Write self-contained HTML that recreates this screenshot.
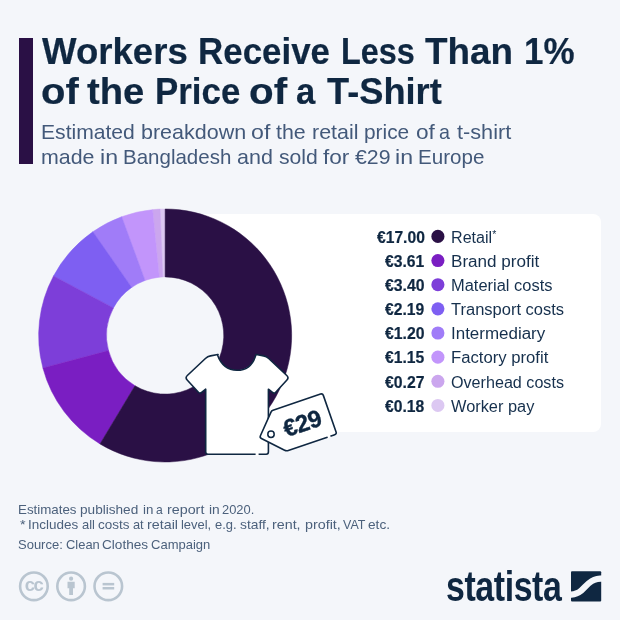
<!DOCTYPE html>
<html lang="en">
<head>
<meta charset="utf-8">
<title>Workers Receive Less Than 1% of the Price of a T-Shirt</title>
<style>
html,body{margin:0;padding:0}
body{width:620px;height:620px;overflow:hidden;background:#f4f6fa;font-family:"Liberation Sans",Arial,sans-serif;position:relative}
.abs{position:absolute;white-space:nowrap;line-height:1}
.ln{position:absolute;left:0;width:620px;white-space:nowrap;line-height:1}
.ln span{position:absolute;top:0;display:block;transform-origin:0 0;white-space:nowrap}
#bar{position:absolute;left:19px;top:38px;width:14px;height:126px;background:#2a1045}
.title{font-weight:700;color:#0f2741;-webkit-text-stroke:0.2px #0f2741}
.sub{color:#43597a}
.val{font-weight:700;color:#0f2741;-webkit-text-stroke:0.2px #0f2741}
.lbl{color:#16304d}
.foot{color:#4c617c}
#card{position:absolute;left:165px;top:214px;width:435.5px;height:218px;background:#fff;border-radius:0 8px 8px 0}
svg{position:absolute;left:0;top:0}
#logo{font-weight:700;font-size:42.5px;color:#0f2741;left:446px;top:566px;transform:scaleX(0.797);transform-origin:0 0;letter-spacing:-0.5px}
</style>
</head>
<body>
<div id="bar"></div>
<div class="ln title" style="top:33.73px;font-size:36px;height:36px"><span style="left:41.80px;transform:scaleX(1.0169)">Workers</span> <span style="left:198.37px;transform:scaleX(0.9701)">Receive</span> <span style="left:341.30px;transform:scaleX(0.9000)">Less</span> <span style="left:425.29px;transform:scaleX(1.0234)">Than</span> <span style="left:523.62px;transform:scaleX(0.9703)">1%</span></div>
<div class="ln title" style="top:74.13px;font-size:36px;height:36px"><span style="left:40.63px;transform:scaleX(1.1108)">of</span> <span style="left:87.47px;transform:scaleX(1.0622)">the</span> <span style="left:154.98px;transform:scaleX(0.9685)">Price</span> <span style="left:249.32px;transform:scaleX(1.1200)">of</span> <span style="left:296.04px;transform:scaleX(0.9610)">a</span> <span style="left:327.20px;transform:scaleX(1.0071)">T-Shirt</span></div>
<div class="ln sub" style="top:122.08px;font-size:20.7px;height:20.7px"><span style="left:41.01px;transform:scaleX(1.0202)">Estimated</span> <span style="left:140.80px;transform:scaleX(1.0386)">breakdown</span> <span style="left:251.33px;transform:scaleX(1.1200)">of</span> <span style="left:275.84px;transform:scaleX(1.0327)">the</span> <span style="left:311.55px;transform:scaleX(1.0357)">retail</span> <span style="left:364.24px;transform:scaleX(1.0082)">price</span> <span style="left:415.50px;transform:scaleX(1.0954)">of</span> <span style="left:439.25px;transform:scaleX(0.9524)">a</span> <span style="left:456.74px;transform:scaleX(1.0478)">t-shirt</span></div>
<div class="ln sub" style="top:146.98px;font-size:20.7px;height:20.7px"><span style="left:41.25px;transform:scaleX(1.0335)">made</span> <span style="left:99.65px;transform:scaleX(1.1200)">in</span> <span style="left:122.67px;transform:scaleX(0.9911)">Bangladesh</span> <span style="left:237.06px;transform:scaleX(1.0388)">and</span> <span style="left:278.93px;transform:scaleX(1.0238)">sold</span> <span style="left:323.03px;transform:scaleX(1.0936)">for</span> <span style="left:354.94px;transform:scaleX(1.0286)">€29</span> <span style="left:395.05px;transform:scaleX(1.1200)">in</span> <span style="left:418.46px;transform:scaleX(0.9953)">Europe</span></div>
<div id="card"></div>
<svg width="620" height="620" viewBox="0 0 620 620" font-family="'Liberation Sans',Arial,sans-serif">
<circle cx="165.15" cy="335.5" r="59.6" fill="#f4f6fa"/>
<path d="M160.07 209.10A126.5 126.5 0 0 1 165.15 209.00L165.15 276.90A58.6 58.6 0 0 0 162.80 276.95Z" fill="#dcc8f2" stroke="#dcc8f2" stroke-width="0.5"/>
<path d="M152.59 209.63A126.5 126.5 0 0 1 160.07 209.10L162.80 276.95A58.6 58.6 0 0 0 159.33 277.19Z" fill="#cba6ee" stroke="#cba6ee" stroke-width="0.5"/>
<path d="M121.68 216.70A126.5 126.5 0 0 1 152.59 209.63L159.33 277.19A58.6 58.6 0 0 0 145.01 280.47Z" fill="#c295fb" stroke="#c295fb" stroke-width="0.5"/>
<path d="M92.86 231.69A126.5 126.5 0 0 1 121.68 216.70L145.01 280.47A58.6 58.6 0 0 0 131.66 287.41Z" fill="#a07cf8" stroke="#a07cf8" stroke-width="0.5"/>
<path d="M53.53 275.98A126.5 126.5 0 0 1 92.86 231.69L131.66 287.41A58.6 58.6 0 0 0 113.44 307.93Z" fill="#7e5ff2" stroke="#7e5ff2" stroke-width="0.5"/>
<path d="M42.90 368.03A126.5 126.5 0 0 1 53.53 275.98L113.44 307.93A58.6 58.6 0 0 0 108.52 350.57Z" fill="#7d3ed9" stroke="#7d3ed9" stroke-width="0.5"/>
<path d="M100.00 443.93A126.5 126.5 0 0 1 42.90 368.03L108.52 350.57A58.6 58.6 0 0 0 134.97 385.73Z" fill="#7a1ec2" stroke="#7a1ec2" stroke-width="0.5"/>
<path d="M165.15 209.00A126.5 126.5 0 1 1 100.00 443.93L134.97 385.73A58.6 58.6 0 1 0 165.15 276.90Z" fill="#2a1045" stroke="#2a1045" stroke-width="0.5"/>
<g id="shirt" fill="#fff" stroke="#0f2741" stroke-width="1.6" stroke-linejoin="round" stroke-linecap="round">
<path d="M218.10 354.60Q217.30 354.60 216.51 354.75L210.55 355.85Q207.60 356.40 205.42 358.46L187.33 375.51Q185.00 377.70 187.17 380.05L198.41 392.19Q199.90 393.80 201.62 392.43L205.70 389.20L205.70 452.10Q205.70 454.30 207.90 454.30L266.20 454.30Q268.40 454.30 268.40 452.10L268.40 389.20L272.48 392.43Q274.20 393.80 275.69 392.19L286.93 380.05Q289.10 377.70 286.77 375.51L268.68 358.46Q266.50 356.40 263.55 355.85L257.59 354.75Q256.80 354.60 256.00 354.60C252.60 366.5 244.60 370.3 237.05 370.3C229.5 370.3 221.5 366.5 217.3 354.6Z"/>
</g>
<line x1="255.6" y1="454.3" x2="258.6" y2="454.3" stroke="#fff" stroke-width="3"/>
<g id="tag">
<path d="M270.99 412.07Q271.60 410.70 273.02 410.22L320.52 394.01Q322.60 393.30 323.32 395.38L336.08 431.92Q336.80 434.00 334.72 434.71L288.29 450.46Q286.40 451.10 284.61 450.20L261.39 438.50Q259.60 437.60 260.41 435.77Z" fill="#fff" stroke="#0f2741" stroke-width="1.6" stroke-linejoin="round"/>
<line x1="327.6" y1="437.1" x2="330.4" y2="436.1" stroke="#fff" stroke-width="3"/>
<circle cx="271" cy="434.3" r="3.2" fill="#fff" stroke="#0f2741" stroke-width="1.5"/>
<text x="0" y="0" transform="translate(302.1 423.1) rotate(-18.7)" text-anchor="middle" font-weight="700" font-size="24" fill="#0f2741" stroke="#0f2741" stroke-width="0.35" dominant-baseline="central" letter-spacing="-0.5">€29</text>
</g>
<g id="dots">
<circle cx="437.9" cy="236.40" r="6.55" fill="#2a1045"/>
<circle cx="437.9" cy="260.55" r="6.55" fill="#7a1ec2"/>
<circle cx="437.9" cy="284.70" r="6.55" fill="#7d3ed9"/>
<circle cx="437.9" cy="308.85" r="6.55" fill="#7e5ff2"/>
<circle cx="437.9" cy="333.00" r="6.55" fill="#a07cf8"/>
<circle cx="437.9" cy="357.15" r="6.55" fill="#c295fb"/>
<circle cx="437.9" cy="381.30" r="6.55" fill="#cba6ee"/>
<circle cx="437.9" cy="405.45" r="6.55" fill="#dcc8f2"/>
</g>
<g id="cc" fill="none" stroke="#b9c5d0" stroke-width="2.6">
<circle cx="33.9" cy="586.3" r="13.8"/>
<circle cx="71.1" cy="586.3" r="13.8"/>
<circle cx="108.3" cy="586.3" r="13.8"/>
<text x="33.6" y="591.1" text-anchor="middle" font-weight="700" font-size="18.5" fill="#b9c5d0" stroke="none" letter-spacing="-1.4">cc</text>
<g fill="#b9c5d0" stroke="none">
<circle cx="71.1" cy="578.7" r="2.1"/>
<path d="M67.5 581.7 h7.2 v6.6 h-1.7 v6.8 h-3.8 v-6.8 h-1.7 z"/>
<rect x="102.6" y="582.9" width="11.6" height="2.5"/>
<rect x="102.6" y="587.0" width="11.6" height="2.5"/>
</g>
</g>
<g id="mark">
<rect x="571" y="571.2" width="30.2" height="30.2" rx="1" fill="#0f2741"/>
<path d="M568 594.9 C588 594.9 582 578.4 604 578.4" fill="none" stroke="#f4f6fa" stroke-width="6.2"/>
</g>
</svg>
<div class="ln val" style="top:229.66px;font-size:16px;height:16px"><span style="left:376.80px;transform:scaleX(0.9782)">€17.00</span></div><div class="ln lbl" style="top:229.66px;font-size:16px;height:16px"><span style="left:451.30px;transform:scaleX(1.0063)">Retail</span><span style="left:492.3px;top:-0.2px;font-size:10.5px;line-height:1">*</span></div>
<div class="ln val" style="top:253.81px;font-size:16px;height:16px"><span style="left:385.30px;transform:scaleX(0.9797)">€3.61</span></div><div class="ln lbl" style="top:253.81px;font-size:16px;height:16px"><span style="left:451.30px;transform:scaleX(1.0679)">Brand profit</span></div>
<div class="ln val" style="top:277.96px;font-size:16px;height:16px"><span style="left:385.30px;transform:scaleX(0.9860)">€3.40</span></div><div class="ln lbl" style="top:277.96px;font-size:16px;height:16px"><span style="left:451.30px;transform:scaleX(1.0276)">Material costs</span></div>
<div class="ln val" style="top:302.11px;font-size:16px;height:16px"><span style="left:385.30px;transform:scaleX(0.9797)">€2.19</span></div><div class="ln lbl" style="top:302.11px;font-size:16px;height:16px"><span style="left:451.30px;transform:scaleX(1.0312)">Transport costs</span></div>
<div class="ln val" style="top:326.26px;font-size:16px;height:16px"><span style="left:385.30px;transform:scaleX(0.9860)">€1.20</span></div><div class="ln lbl" style="top:326.26px;font-size:16px;height:16px"><span style="left:451.30px;transform:scaleX(1.0592)">Intermediary</span></div>
<div class="ln val" style="top:350.41px;font-size:16px;height:16px"><span style="left:385.30px;transform:scaleX(0.9797)">€1.15</span></div><div class="ln lbl" style="top:350.41px;font-size:16px;height:16px"><span style="left:451.30px;transform:scaleX(1.0424)">Factory profit</span></div>
<div class="ln val" style="top:374.56px;font-size:16px;height:16px"><span style="left:385.30px;transform:scaleX(0.9860)">€0.27</span></div><div class="ln lbl" style="top:374.56px;font-size:16px;height:16px"><span style="left:451.30px;transform:scaleX(1.0081)">Overhead costs</span></div>
<div class="ln val" style="top:398.71px;font-size:16px;height:16px"><span style="left:385.30px;transform:scaleX(0.9797)">€0.18</span></div><div class="ln lbl" style="top:398.71px;font-size:16px;height:16px"><span style="left:451.30px;transform:scaleX(1.0221)">Worker pay</span></div>
<div class="ln foot" style="top:502.90px;font-size:13px;height:13px"><span style="left:18.17px;transform:scaleX(1.0252)">Estimates</span> <span style="left:80.12px;transform:scaleX(1.0463)">published</span> <span style="left:142.73px;transform:scaleX(1.0235)">in</span> <span style="left:156.20px;transform:scaleX(0.9300)">a</span> <span style="left:167.15px;transform:scaleX(1.1000)">report</span> <span style="left:208.71px;transform:scaleX(1.0588)">in</span> <span style="left:222.45px;transform:scaleX(0.9934)">2020.</span></div>
<div class="ln foot" style="top:518.20px;font-size:13px;height:13px"><span style="left:19.55px;transform:scaleX(1.1000)">*</span> <span style="left:28.31px;transform:scaleX(1.0353)">Includes</span> <span style="left:82.00px;transform:scaleX(0.9957)">all</span> <span style="left:98.48px;transform:scaleX(1.0359)">costs</span> <span style="left:133.21px;transform:scaleX(0.9854)">at</span> <span style="left:147.36px;transform:scaleX(1.1000)">retail</span> <span style="left:181.21px;transform:scaleX(0.9947)">level,</span> <span style="left:215.10px;transform:scaleX(0.9950)">e.g.</span> <span style="left:239.57px;transform:scaleX(1.0629)">staff,</span> <span style="left:271.80px;transform:scaleX(1.0989)">rent,</span> <span style="left:304.70px;transform:scaleX(1.1000)">profit,</span> <span style="left:343.26px;transform:scaleX(0.9582)">VAT</span> <span style="left:368.28px;transform:scaleX(1.0494)">etc.</span></div>
<div class="ln foot" style="top:538.00px;font-size:13px;height:13px"><span style="left:18.45px;transform:scaleX(0.9988)">Source:</span> <span style="left:65.65px;transform:scaleX(0.9938)">Clean</span> <span style="left:101.92px;transform:scaleX(1.0456)">Clothes</span> <span style="left:150.65px;transform:scaleX(1.0009)">Campaign</span></div>
<div class="abs" id="logo">statista</div>
</body>
</html>
